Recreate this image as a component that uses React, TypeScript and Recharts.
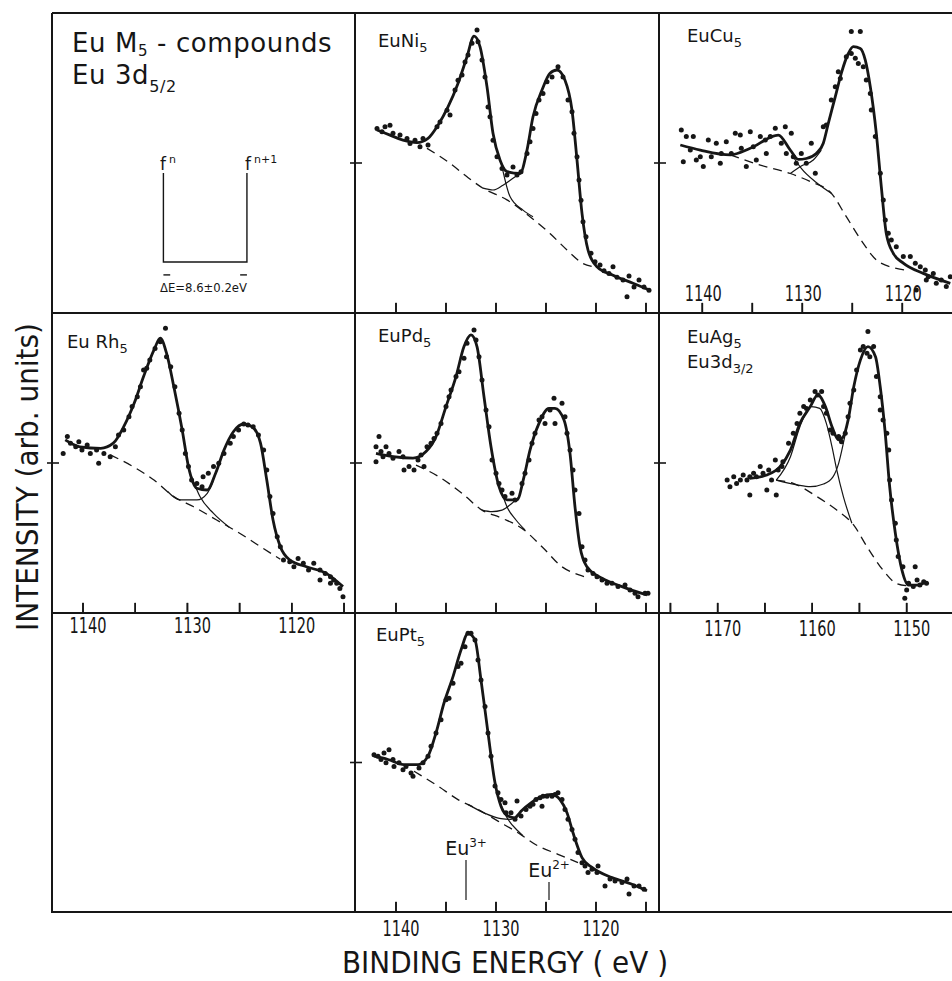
import React from 'react';
import { ComposedChart, Line, Scatter, XAxis, YAxis, ReferenceLine } from 'recharts';

type Pair = [number, number];

const INK = '#161616';
const FONT = '"DejaVu Sans", "Liberation Sans", sans-serif';

// ---------- axis ticks ----------
const ticksEu = [1140, 1135, 1130, 1125, 1120, 1115];
const ticksCu = [1140, 1135, 1130, 1125, 1120];
const ticksAg = [1175, 1170, 1165, 1160, 1155, 1150];
const yTickValues = [50];
const xTickBase = 0.05; // y-units (0..100 per panel)
const xTickTop = 3.4;

// ---------- axis domains (binding energy, eV) ----------
const domainLeft: [number, number] = [1113.95, 1142.97];
const domainMid: [number, number] = [1113.7, 1144.1];
const domainCu: [number, number] = [1113.93, 1144.33];
const domainAg: [number, number] = [1144.04, 1176.21];

// ---------- schematic (top-left) ----------
const levelEnergy = [1132.3, 1124.3];
const levelTop = 46.7;
const levelBase = 17.0;
const arrowLevel = 12.7;
const arrowLength = 0.65;

// ---------- EuNi5 ----------
const niPoints: Pair[] = [[1141.9,61.5],[1141.4,60.4],[1141.1,62.1],[1140.6,62.6],[1140.3,59.9],[1139.6,59.3],[1138.9,58.2],[1138.6,56.5],[1138.1,57.6],[1137.6,55.4],[1137.3,58.2],[1136.8,56.0],[1135.9,62.1],[1135.6,63.7],[1134.9,67.6],[1134.6,66.0],[1134.1,74.3],[1133.8,77.6],[1133.4,79.3],[1133.1,83.7],[1132.8,86.0],[1132.4,89.9],[1131.9,94.3],[1131.8,90.4],[1131.4,84.3],[1131.1,78.7],[1130.8,68.7],[1130.6,65.4],[1130.3,57.6],[1129.9,52.1],[1129.4,48.2],[1128.9,46.0],[1128.3,48.7],[1127.9,46.0],[1127.5,47.1],[1126.9,53.2],[1126.6,57.1],[1126.3,61.5],[1126.0,66.5],[1125.7,71.0],[1125.3,73.2],[1124.9,77.1],[1124.4,78.7],[1123.8,82.1],[1123.3,78.7],[1122.8,71.0],[1122.4,67.1],[1122.2,59.9],[1121.9,52.1],[1121.7,44.3],[1121.5,37.6],[1121.3,30.4],[1121.0,25.4],[1120.5,19.9],[1120.1,17.1],[1119.6,16.0],[1119.2,14.1],[1118.7,13.2],[1118.3,15.4],[1117.9,11.9],[1117.3,11.0],[1116.7,12.3],[1116.2,8.7],[1115.7,11.0],[1115.2,8.7],[1114.7,7.6],[1116.9,5.4]];
const niFit: Pair[] = [[1141.9,61.0],[1140.6,59.3],[1139.3,57.6],[1137.9,56.8],[1136.8,58.2],[1135.8,62.6],[1134.8,68.7],[1133.8,76.5],[1132.9,85.4],[1132.2,92.3],[1131.6,88.8],[1130.9,75.4],[1130.3,59.9],[1129.6,51.0],[1128.9,47.1],[1127.6,46.5],[1126.9,54.3],[1126.3,65.4],[1125.4,74.3],[1124.6,79.9],[1123.9,81.0],[1123.1,77.6],[1122.4,67.6],[1121.9,51.0],[1121.4,33.2],[1120.8,21.0],[1119.9,15.4],[1118.3,12.6],[1116.3,9.9],[1114.6,7.6]];
const niBackground: Pair[] = [[1136.9,54.9],[1134.6,49.9],[1132.9,45.4],[1131.3,41.6],[1128.9,37.7],[1126.6,32.1],[1124.6,26.5],[1122.9,21.0],[1121.3,16.5],[1120.3,15.4]];
const niEu3: Pair[] = [[1129.4,48.8],[1128.6,38.8],[1127.3,34.3],[1126.3,32.1]];
const niEu2: Pair[] = [[1131.3,41.6],[1130.3,41.0],[1129.3,42.6],[1128.3,44.9],[1127.6,46.5]];

// ---------- EuCu5 ----------
const cuPoints: Pair[] = [[1142.1,61.0],[1141.9,50.4],[1141.6,58.8],[1141.2,54.3],[1140.9,58.8],[1140.6,51.0],[1140.2,52.1],[1139.9,48.8],[1139.4,57.7],[1139.1,52.1],[1138.6,56.6],[1138.2,49.9],[1138.1,53.2],[1137.6,57.1],[1137.1,53.2],[1136.7,59.9],[1136.2,59.3],[1136.1,54.9],[1135.6,48.8],[1135.2,60.4],[1134.9,55.4],[1134.6,51.0],[1134.2,58.8],[1133.7,57.7],[1133.6,53.2],[1133.2,58.8],[1132.7,61.6],[1132.1,56.6],[1131.7,62.1],[1131.6,53.2],[1131.1,59.9],[1130.9,52.1],[1130.6,49.9],[1130.1,53.2],[1129.6,49.9],[1129.1,56.6],[1128.7,46.6],[1127.9,62.1],[1127.6,62.7],[1127.1,71.0],[1126.7,75.4],[1126.4,80.4],[1126.2,78.2],[1125.6,85.4],[1125.1,86.5],[1124.7,84.9],[1124.4,83.2],[1123.9,82.1],[1123.6,77.7],[1123.2,73.2],[1123.1,67.7],[1122.7,58.8],[1122.2,46.6],[1121.9,37.7],[1121.7,31.0],[1121.4,26.6],[1121.1,24.3],[1120.6,22.1],[1119.9,18.8],[1119.2,18.8],[1118.7,16.6],[1118.2,15.4],[1117.7,14.3],[1117.4,12.1],[1116.9,13.2],[1116.6,9.9],[1116.1,11.0],[1115.6,8.8],[1115.2,12.1],[1118.6,7.7],[1117.6,11.0],[1125.1,93.8],[1124.2,93.8]];
const cuFit: Pair[] = [[1142.2,56.0],[1140.2,54.3],[1137.2,52.7],[1135.2,54.9],[1132.4,59.3],[1131.2,54.3],[1130.4,51.2],[1129.6,51.5],[1128.6,53.2],[1127.9,56.6],[1127.4,63.2],[1126.7,72.1],[1126.1,79.9],[1125.4,86.5],[1124.9,88.8],[1124.2,88.2],[1123.7,84.3],[1123.2,75.4],[1122.6,59.9],[1122.1,42.1],[1121.6,26.5],[1120.9,19.9],[1119.9,16.6],[1117.9,13.2],[1115.2,9.9]];
const cuBackground: Pair[] = [[1137.2,52.7],[1134.2,49.3],[1131.2,46.5],[1129.2,43.8],[1127.1,39.9],[1125.6,32.1],[1123.9,23.2],[1122.6,17.7],[1120.6,14.9],[1119.6,14.3]];
const cuEu3: Pair[] = [[1130.8,51.5],[1130.1,48.2],[1128.6,43.5],[1127.1,39.9]];
const cuEu2: Pair[] = [[1131.2,46.5],[1130.1,49.0],[1128.9,51.0],[1128.1,54.3]];

// ---------- EuRh5 ----------
const rhPoints: Pair[] = [[1141.9,53.2],[1141.5,58.8],[1141.2,56.6],[1140.7,55.4],[1140.4,57.1],[1140.1,54.3],[1139.6,56.0],[1139.3,53.2],[1138.7,54.3],[1138.5,49.9],[1138.0,53.2],[1137.4,52.1],[1136.9,55.4],[1136.6,59.3],[1136.1,61.0],[1135.6,65.4],[1135.3,68.8],[1134.8,72.1],[1134.5,75.4],[1134.2,81.0],[1133.9,81.6],[1133.6,84.3],[1133.1,88.2],[1132.6,90.4],[1132.1,94.9],[1132.0,85.4],[1131.6,82.1],[1131.2,75.4],[1130.8,66.6],[1130.5,61.0],[1130.2,53.2],[1129.9,48.8],[1129.6,44.3],[1129.1,43.2],[1128.6,42.1],[1128.5,45.4],[1128.0,46.6],[1127.5,48.8],[1127.0,49.9],[1126.5,53.2],[1125.9,56.6],[1125.6,58.8],[1125.1,61.0],[1124.6,63.0],[1124.2,62.7],[1123.7,62.1],[1123.2,59.3],[1122.7,54.3],[1122.4,47.7],[1122.1,38.8],[1121.8,33.2],[1121.4,25.4],[1121.1,22.1],[1120.8,17.7],[1120.2,17.1],[1119.8,15.4],[1119.4,18.2],[1118.9,16.6],[1118.4,14.3],[1117.9,16.6],[1117.3,14.3],[1116.8,13.2],[1116.3,12.1],[1116.0,11.0],[1115.7,9.9],[1115.4,8.2],[1115.1,5.4],[1117.3,11.0],[1116.3,9.9]];
const rhFit: Pair[] = [[1141.7,57.7],[1140.3,55.4],[1138.3,54.9],[1137.1,56.6],[1136.1,62.1],[1135.1,69.9],[1134.2,78.8],[1133.2,87.7],[1132.6,91.6],[1132.0,86.6],[1131.3,75.4],[1130.5,61.0],[1129.9,48.8],[1129.1,41.6],[1128.1,41.0],[1127.3,46.6],[1126.5,54.3],[1125.6,60.4],[1124.6,63.0],[1123.8,62.1],[1123.0,56.6],[1122.4,44.3],[1121.8,31.0],[1121.1,22.1],[1120.2,17.7],[1118.6,15.4],[1116.7,13.2],[1115.1,8.8]];
const rhBackground: Pair[] = [[1137.4,52.7],[1135.2,48.8],[1133.2,44.3],[1131.3,38.8],[1129.4,35.4],[1127.2,31.0],[1125.0,26.6],[1123.0,22.1],[1121.1,17.9]];
const rhEu3: Pair[] = [[1129.6,45.4],[1128.8,38.8],[1127.5,33.2],[1126.0,28.6]];
const rhEu2: Pair[] = [[1131.9,40.5],[1130.7,37.7],[1129.1,37.7],[1128.1,39.9],[1127.5,44.3]];

// ---------- EuPd5 ----------
const pdPoints: Pair[] = [[1142.0,55.4],[1141.7,58.8],[1141.5,53.8],[1141.3,52.1],[1141.0,55.4],[1140.7,53.2],[1140.3,51.6],[1139.7,53.8],[1139.3,52.1],[1139.2,47.7],[1138.7,48.8],[1138.2,47.7],[1137.8,51.0],[1137.5,52.7],[1137.2,48.8],[1136.9,55.4],[1136.5,56.6],[1136.2,58.2],[1135.9,59.9],[1135.5,63.2],[1135.0,68.8],[1134.7,72.1],[1134.5,74.3],[1134.0,78.8],[1133.7,80.4],[1133.2,84.9],[1132.9,89.9],[1132.2,94.3],[1132.0,91.0],[1131.7,85.4],[1131.4,77.7],[1131.0,67.7],[1130.7,62.1],[1130.4,51.0],[1130.0,46.6],[1129.7,43.2],[1129.4,41.0],[1129.1,38.8],[1128.4,39.9],[1128.1,37.7],[1127.4,43.2],[1127.1,46.6],[1126.7,51.0],[1126.4,56.6],[1126.1,59.9],[1125.7,64.3],[1125.4,65.4],[1125.1,63.2],[1124.6,67.7],[1124.2,71.6],[1124.1,63.2],[1123.4,69.9],[1123.1,65.4],[1122.9,59.9],[1122.6,54.3],[1122.3,47.7],[1122.1,41.0],[1121.7,33.2],[1121.4,22.1],[1121.1,17.7],[1120.8,14.3],[1120.3,13.2],[1119.9,12.1],[1119.4,11.0],[1118.9,9.9],[1118.4,9.9],[1117.8,8.8],[1117.1,9.3],[1116.6,7.7],[1116.1,6.6],[1115.8,5.4],[1115.1,6.6],[1114.8,6.6],[1142.0,50.4]];
const pdFit: Pair[] = [[1142.0,53.2],[1140.3,52.1],[1138.3,51.6],[1137.0,53.8],[1136.0,58.8],[1135.0,68.8],[1134.0,78.8],[1133.2,88.8],[1132.5,92.7],[1131.9,88.8],[1131.2,72.1],[1130.5,55.4],[1129.7,42.1],[1128.9,37.7],[1127.9,37.7],[1127.2,45.4],[1126.6,54.3],[1125.7,63.2],[1124.7,68.2],[1124.1,68.2],[1123.2,64.3],[1122.6,53.2],[1122.1,35.4],[1121.6,22.1],[1120.9,15.4],[1119.4,11.6],[1117.4,8.8],[1114.9,6.0]];
const pdBackground: Pair[] = [[1138.0,49.3],[1135.7,45.4],[1133.4,39.9],[1131.4,34.3],[1129.4,31.6],[1127.4,28.2],[1125.4,22.1],[1123.4,15.4],[1121.7,12.7],[1120.7,11.6]];
const pdEu3: Pair[] = [[1129.5,41.0],[1128.9,35.4],[1128.0,31.0],[1127.1,27.7]];
const pdEu2: Pair[] = [[1131.4,34.3],[1130.4,33.8],[1129.4,34.3],[1128.4,36.6],[1127.7,38.8]];

// ---------- EuAg5 (Eu 3d3/2) ----------
const agPoints: Pair[] = [[1169.0,44.3],[1168.7,42.1],[1168.3,45.4],[1168.0,43.2],[1167.6,44.3],[1167.3,46.0],[1166.9,44.3],[1166.6,39.3],[1166.6,45.4],[1166.2,46.6],[1165.9,45.4],[1165.5,48.8],[1165.2,46.6],[1164.8,41.0],[1164.6,47.7],[1164.3,44.3],[1163.8,39.3],[1163.9,51.0],[1163.6,47.7],[1163.2,48.8],[1163.1,50.4],[1162.5,56.6],[1162.0,59.9],[1161.6,63.2],[1161.3,66.6],[1160.9,68.8],[1160.6,68.2],[1160.2,71.0],[1159.7,73.8],[1159.4,72.7],[1159.0,73.8],[1158.8,68.8],[1158.5,66.6],[1158.1,61.0],[1157.8,59.9],[1157.2,58.8],[1156.9,57.1],[1156.5,59.9],[1156.2,65.4],[1156.0,69.9],[1155.6,74.3],[1155.3,81.0],[1154.9,87.7],[1154.6,88.8],[1154.2,86.6],[1154.1,93.8],[1153.9,85.4],[1153.5,88.8],[1153.2,78.8],[1152.8,72.1],[1152.8,67.7],[1152.5,64.3],[1152.1,59.9],[1151.9,54.3],[1151.8,44.3],[1151.6,37.7],[1151.2,29.9],[1151.1,24.3],[1150.9,18.8],[1150.4,15.4],[1150.0,7.7],[1149.8,9.9],[1149.3,8.8],[1148.9,11.0],[1148.6,9.3],[1148.2,10.4],[1147.9,9.9],[1150.2,4.9],[1149.1,15.4]];
const agFit: Pair[] = [[1166.6,44.9],[1164.8,46.0],[1163.4,48.8],[1162.3,54.3],[1161.3,63.2],[1160.2,68.8],[1159.4,72.7],[1158.6,68.8],[1157.9,62.1],[1157.2,57.7],[1156.7,58.8],[1156.2,64.3],[1155.6,75.4],[1154.9,84.3],[1154.1,88.8],[1153.3,85.4],[1152.8,75.4],[1152.3,61.0],[1151.8,42.1],[1151.2,26.6],[1150.5,14.3],[1149.8,9.3],[1148.9,9.3],[1147.9,10.4]];
const agBackground: Pair[] = [[1163.8,44.3],[1162.0,43.2],[1159.5,38.8],[1157.4,34.3],[1155.6,29.3],[1154.2,22.1],[1152.5,14.3],[1151.1,9.9],[1149.8,9.0]];
const agHighPeak: Pair[] = [[1163.8,44.3],[1162.3,52.1],[1161.3,62.1],[1160.1,68.8],[1159.2,68.2],[1158.5,63.2],[1157.9,55.4],[1157.4,47.7],[1156.7,38.8],[1155.8,29.9]];
const agLowPeak: Pair[] = [[1163.8,44.3],[1161.6,42.7],[1160.2,42.1],[1158.8,43.0],[1157.8,45.4],[1157.2,49.9],[1156.7,56.6],[1156.2,64.3]];

// ---------- EuPt5 ----------
const ptPoints: Pair[] = [[1142.2,52.6],[1141.8,52.1],[1141.5,51.0],[1141.2,53.2],[1141.0,49.9],[1140.7,54.3],[1140.3,51.0],[1140.2,48.7],[1139.7,49.9],[1139.3,47.6],[1139.0,48.7],[1138.5,46.5],[1138.3,45.4],[1137.7,48.2],[1137.3,49.9],[1136.8,52.1],[1136.5,55.4],[1136.0,59.9],[1135.5,64.3],[1135.0,71.0],[1134.7,71.5],[1134.3,76.5],[1133.8,82.1],[1133.5,83.2],[1133.1,88.7],[1132.8,93.2],[1132.5,93.2],[1132.1,91.0],[1131.8,84.3],[1131.5,77.6],[1131.1,68.7],[1130.8,59.9],[1130.5,52.1],[1130.1,42.1],[1129.8,39.9],[1129.5,37.6],[1129.1,36.5],[1129.0,33.2],[1128.5,33.2],[1127.9,37.1],[1128.1,31.0],[1127.5,32.1],[1127.0,34.3],[1126.6,35.4],[1126.3,36.0],[1126.0,37.6],[1125.6,38.2],[1125.3,38.7],[1124.9,38.7],[1124.4,38.7],[1124.1,39.3],[1123.8,39.9],[1123.4,37.6],[1123.1,34.3],[1122.8,31.0],[1122.4,27.6],[1122.1,24.3],[1121.8,19.9],[1121.4,16.5],[1121.1,15.4],[1120.8,13.2],[1120.4,14.3],[1119.9,13.2],[1119.8,15.4],[1119.1,8.7],[1118.6,11.0],[1118.1,10.4],[1117.4,9.9],[1116.9,11.0],[1116.7,6.0],[1116.2,8.7],[1115.7,8.7],[1115.2,7.6],[1125.4,35.4]];
const ptFit: Pair[] = [[1142.2,52.1],[1140.8,51.0],[1139.2,49.3],[1137.8,49.3],[1136.8,52.1],[1136.0,59.9],[1135.2,69.9],[1134.3,78.7],[1133.5,87.6],[1132.8,93.2],[1132.1,91.0],[1131.5,77.6],[1130.8,59.9],[1130.1,43.2],[1129.5,35.4],[1128.8,32.1],[1128.1,31.5],[1127.5,33.7],[1126.5,36.5],[1125.4,38.7],[1124.4,39.3],[1123.6,37.6],[1122.9,33.2],[1122.3,26.5],[1121.4,18.2],[1120.4,14.9],[1118.4,11.5],[1116.4,9.3],[1114.9,7.1]];
const ptBackground: Pair[] = [[1138.2,47.1],[1135.8,42.1],[1133.8,37.6],[1131.8,34.3],[1129.8,30.4],[1127.8,26.5],[1125.8,22.1],[1123.8,19.3],[1121.8,16.5]];
const ptEu3: Pair[] = [[1129.6,36.5],[1128.8,31.0],[1127.8,27.1],[1127.3,25.5]];
const ptEu2: Pair[] = [[1132.8,36.0],[1131.1,33.0],[1129.5,31.2],[1128.5,31.0],[1127.8,32.8]];
const ptMarkerEnergy = [1133.0, 1124.7];
const ptMarkerTop = [17.4, 10.0];
const ptMarkerBottom = 4.0;
const ptMarkerCharge = ['3+', '2+'];

// ---------- layout ----------
const COL_X = [52, 355, 659];
const COL_W = [303, 304, 304];
const ROW_Y = [13, 313, 613];
const ROW_H = [300, 300, 299];
const PAD = 12;
const BPAD = 45;

const xy = (arr: Pair[]) => arr.map(([x, y]) => ({ x, y }));

const makeXTick = (mode: 'none' | 'inside' | 'below', dx: number, dy: number) => (p: any) => {
  const v = Number(p.payload?.value);
  const px = Number(p.x);
  const py = Number(p.y);
  if (mode === 'none' || v % 10 !== 0) return <g />;
  return (
    <text
      x={px + dx}
      y={mode === 'inside' ? py - 12 : py + dy}
      textAnchor="middle"
      fontSize={21}
      fontFamily={FONT}
      fill={INK}
      stroke="none"
      textLength={37}
      lengthAdjust="spacingAndGlyphs"
    >
      {v}
    </text>
  );
};

const leftYTick = (p: any) => (
  <line x1={p.x - 5} x2={p.x + 7} y1={p.y} y2={p.y} stroke={INK} strokeWidth={1.6} />
);
const rightYTick = (p: any) => (
  <line x1={p.x - 7} x2={p.x + 5} y1={p.y} y2={p.y} stroke={INK} strokeWidth={1.6} />
);

const dotShape = (p: any) => <circle cx={p.cx} cy={p.cy} r={2.5} fill={INK} />;

function IonLabel(props: any) {
  const vb = props.viewBox;
  if (!vb) return null;
  return (
    <text x={vb.x + (vb.width || 0) / 2} y={vb.y - 5} textAnchor="middle" fontSize={19} fontFamily={FONT} fill={INK}>
      Eu
      <tspan dy={-8} fontSize={12}>{props.charge}</tspan>
    </text>
  );
}

type PanelProps = {
  col: number;
  row: number;
  domain: [number, number];
  xTicks?: number[];
  labelMode?: 'none' | 'inside' | 'below';
  labelDx?: number;
  labelDy?: number;
  yTicks?: boolean;
  fit?: Pair[];
  bg?: Pair[];
  comps?: Pair[][];
  points?: Pair[];
  extra?: React.ReactNode;
};

function Panel({ col, row, domain, xTicks, labelMode = 'none', labelDx = 4, labelDy = 22, yTicks = true, fit, bg, comps = [], points, extra }: PanelProps) {
  const w = COL_W[col];
  const h = ROW_H[row];
  const frame = { stroke: INK, strokeWidth: 2 };
  // each axis takes 1px of room so that Recharts draws it; margins compensate
  return (
    <div style={{ position: 'absolute', left: COL_X[col] - PAD, top: ROW_Y[row] - PAD }}>
      <ComposedChart width={w + 2 * PAD} height={h + PAD + BPAD} margin={{ top: PAD - 1, right: PAD - 1, bottom: BPAD - 1, left: PAD - 1 }}>
        <XAxis
          xAxisId="b"
          type="number"
          dataKey="x"
          domain={domain}
          reversed
          height={1}
          ticks={xTicks || [domain[0]]}
          interval={0}
          tickLine={false}
          tickSize={0}
          tickMargin={0}
          axisLine={frame}
          tick={xTicks ? makeXTick(labelMode, labelDx, labelDy) : false}
        />
        <XAxis
          xAxisId="t"
          orientation="top"
          type="number"
          dataKey="x"
          domain={domain}
          reversed
          height={1}
          ticks={[domain[0]]}
          tick={false}
          tickLine={false}
          axisLine={frame}
        />
        <YAxis
          yAxisId="l"
          type="number"
          dataKey="y"
          domain={[0, 100]}
          width={1}
          ticks={yTickValues}
          interval={0}
          tickLine={false}
          tickSize={0}
          tickMargin={0}
          axisLine={frame}
          tick={yTicks ? leftYTick : false}
        />
        <YAxis
          yAxisId="r"
          orientation="right"
          type="number"
          dataKey="y"
          domain={[0, 100]}
          width={1}
          ticks={yTickValues}
          interval={0}
          tickLine={false}
          tickSize={0}
          tickMargin={0}
          axisLine={frame}
          tick={yTicks ? rightYTick : false}
        />
        {(xTicks || []).map((t) => (
          <ReferenceLine
            key={'xt' + t}
            xAxisId="b"
            yAxisId="l"
            segment={[{ x: t, y: xTickBase }, { x: t, y: xTickTop }]}
            stroke={INK}
            strokeWidth={1.6}
            ifOverflow="visible"
          />
        ))}
        {bg && (
          <Line xAxisId="b" yAxisId="l" data={xy(bg)} dataKey="y" type="monotone" stroke={INK} strokeWidth={1.3} strokeDasharray="9 6" dot={false} activeDot={false} isAnimationActive={false} />
        )}
        {comps.map((c, i) => (
          <Line key={'c' + i} xAxisId="b" yAxisId="l" data={xy(c)} dataKey="y" type="monotone" stroke={INK} strokeWidth={1.2} dot={false} activeDot={false} isAnimationActive={false} />
        ))}
        {points && <Scatter xAxisId="b" yAxisId="l" data={xy(points)} shape={dotShape} isAnimationActive={false} />}
        {fit && (
          <Line xAxisId="b" yAxisId="l" data={xy(fit)} dataKey="y" type="monotone" stroke={INK} strokeWidth={2.8} dot={false} activeDot={false} isAnimationActive={false} />
        )}
        {extra}
      </ComposedChart>
    </div>
  );
}

const diagramPath = [
  { x: levelEnergy[0], y: levelTop },
  { x: levelEnergy[0], y: levelBase },
  { x: levelEnergy[1], y: levelBase },
  { x: levelEnergy[1], y: levelTop },
];
const arrowLeft = [
  { x: levelEnergy[0], y: arrowLevel },
  { x: levelEnergy[0] - arrowLength, y: arrowLevel },
];
const arrowRight = [
  { x: levelEnergy[1] + arrowLength, y: arrowLevel },
  { x: levelEnergy[1], y: arrowLevel },
];

const panelNames = [
  { x: 378, y: 47, main: 'EuNi', sub: '5' },
  { x: 687, y: 42, main: 'EuCu', sub: '5' },
  { x: 67, y: 348, main: 'Eu Rh', sub: '5' },
  { x: 378, y: 342, main: 'EuPd', sub: '5' },
  { x: 687, y: 343, main: 'EuAg', sub: '5' },
  { x: 687, y: 368, main: 'Eu3d', sub: '3/2' },
  { x: 376, y: 641, main: 'EuPt', sub: '5' },
];

// bottom-frame tick rows (same energy → pixel mapping as the panels' x axes)
const tickRows: { col: number; row: number; domain: [number, number]; ticks: number[] }[] = [
  { col: 1, row: 0, domain: domainMid, ticks: ticksEu },
  { col: 2, row: 0, domain: domainCu, ticks: ticksCu },
  { col: 0, row: 1, domain: domainLeft, ticks: ticksEu },
  { col: 1, row: 1, domain: domainMid, ticks: ticksEu },
  { col: 2, row: 1, domain: domainAg, ticks: ticksAg },
  { col: 1, row: 2, domain: domainMid, ticks: ticksEu },
];

export default function App() {
  const diagram = [
    <Line key="d" xAxisId="b" yAxisId="l" data={diagramPath} dataKey="y" type="linear" stroke={INK} strokeWidth={1.4} dot={false} activeDot={false} isAnimationActive={false} />,
    <Line key="al" xAxisId="b" yAxisId="l" data={arrowLeft} dataKey="y" type="linear" stroke={INK} strokeWidth={1.4} dot={false} activeDot={false} isAnimationActive={false} />,
    <Line key="ar" xAxisId="b" yAxisId="l" data={arrowRight} dataKey="y" type="linear" stroke={INK} strokeWidth={1.4} dot={false} activeDot={false} isAnimationActive={false} />,
  ];
  const ptMarkers = ptMarkerEnergy.map((e, i) => (
    <ReferenceLine
      key={'m' + i}
      xAxisId="b"
      yAxisId="l"
      segment={[{ x: e, y: ptMarkerBottom }, { x: e, y: ptMarkerTop[i] }]}
      stroke={INK}
      strokeWidth={1.2}
      label={<IonLabel charge={ptMarkerCharge[i]} />}
    />
  ));

  return (
    <div style={{ position: 'absolute', left: 0, top: 0, width: 952, height: 981, overflow: 'hidden', background: '#fff', fontFamily: FONT }}>
      <Panel col={0} row={0} domain={domainLeft} yTicks={false} extra={diagram} />
      <Panel col={1} row={0} domain={domainMid} xTicks={ticksEu} fit={niFit} bg={niBackground} comps={[niEu3, niEu2]} points={niPoints} />
      <Panel col={2} row={0} domain={domainCu} xTicks={ticksCu} labelMode="inside" labelDx={1} fit={cuFit} bg={cuBackground} comps={[cuEu3, cuEu2]} points={cuPoints} />
      <Panel col={0} row={1} domain={domainLeft} xTicks={ticksEu} labelMode="below" labelDx={5} labelDy={20} fit={rhFit} bg={rhBackground} comps={[rhEu3, rhEu2]} points={rhPoints} />
      <Panel col={1} row={1} domain={domainMid} xTicks={ticksEu} fit={pdFit} bg={pdBackground} comps={[pdEu3, pdEu2]} points={pdPoints} />
      <Panel col={2} row={1} domain={domainAg} xTicks={ticksAg} labelMode="below" labelDx={5} labelDy={23} fit={agFit} bg={agBackground} comps={[agHighPeak, agLowPeak]} points={agPoints} />
      <Panel col={1} row={2} domain={domainMid} xTicks={ticksEu} labelMode="below" labelDx={5} labelDy={24} fit={ptFit} bg={ptBackground} comps={[ptEu3, ptEu2]} points={ptPoints} extra={ptMarkers} />

      <svg width={952} height={981} style={{ position: 'absolute', left: 0, top: 0, pointerEvents: 'none' }} fontFamily={FONT} fill={INK}>
        {/* frame of the empty panels */}
        <line x1={52} y1={613} x2={52} y2={913} stroke={INK} strokeWidth={2} />
        <line x1={51} y1={912} x2={356} y2={912} stroke={INK} strokeWidth={2} />
        <line x1={658} y1={912} x2={952} y2={912} stroke={INK} strokeWidth={2} />

        {/* inward tick marks on the bottom frames */}
        {tickRows.map((r) =>
          r.ticks.map((t) => {
            const x = COL_X[r.col] + ((r.domain[1] - t) / (r.domain[1] - r.domain[0])) * COL_W[r.col];
            const yb = ROW_Y[r.row] + ROW_H[r.row];
            return <line key={`${r.col}-${r.row}-${t}`} x1={x} x2={x} y1={yb} y2={yb - 10} stroke={INK} strokeWidth={1.6} />;
          })
        )}

        {/* title block */}
        <text x={72} y={52} fontSize={26} letterSpacing={0.6}>
          Eu M<tspan fontSize={15} dy={4}>5</tspan>
          <tspan dy={-4}> - compounds</tspan>
        </text>
        <text x={72} y={84} fontSize={26} letterSpacing={0.6}>
          Eu 3d<tspan fontSize={16} dy={8}>5/2</tspan>
        </text>
        <text x={160} y={170} fontSize={17}>
          f<tspan dx={3} dy={-7} fontSize={11}>n</tspan>
        </text>
        <text x={245} y={170} fontSize={17}>
          f<tspan dx={3} dy={-7} fontSize={11}>n+1</tspan>
        </text>
        <text x={160} y={292} fontSize={13} textLength={87} lengthAdjust="spacingAndGlyphs">ΔE=8.6±0.2eV</text>

        {/* panel names */}
        {panelNames.map((n, i) => (
          <text key={i} x={n.x} y={n.y} fontSize={18}>
            {n.main}
            <tspan fontSize={13} dy={5}>{n.sub}</tspan>
          </text>
        ))}

        {/* axis titles */}
        <text transform="translate(38,631) rotate(-90)" fontSize={30} textLength={308} lengthAdjust="spacingAndGlyphs">
          INTENSITY (arb. units)
        </text>
        <text x={342} y={973} fontSize={31} textLength={326} lengthAdjust="spacingAndGlyphs">
          BINDING ENERGY ( eV )
        </text>
      </svg>
    </div>
  );
}
